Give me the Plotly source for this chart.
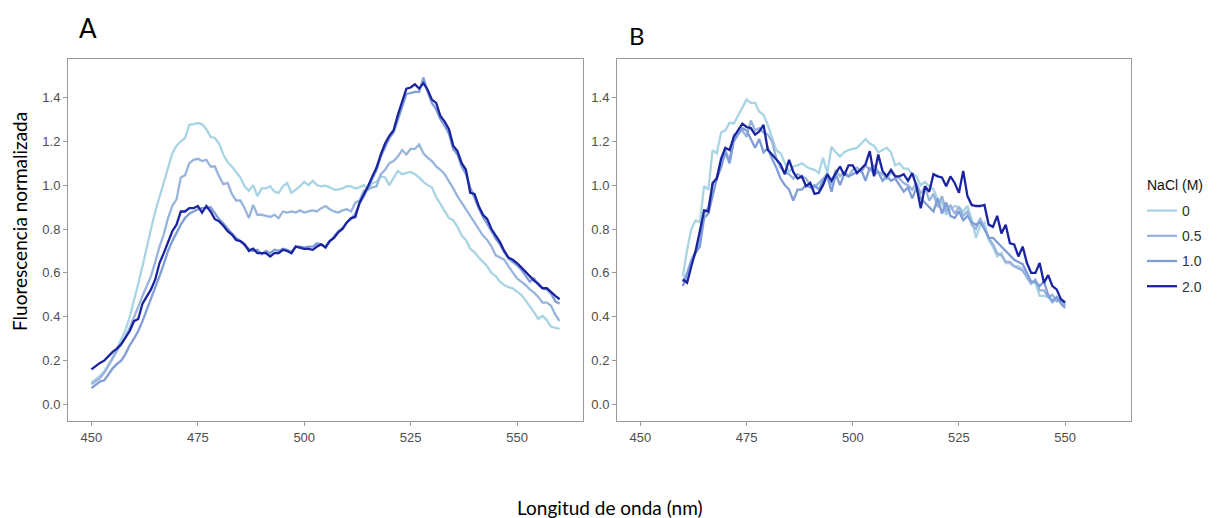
import plotly.graph_objects as go

# ---------------- data ----------------
wl_A = list(range(450, 561))
wl_B = list(range(460, 551))
series_names = ["0", "0.5", "1.0", "2.0"]
series_colors = ["#a8d4e4", "#98b4dc", "#7f9dd6", "#1a24a0"]

A_0 = [0.100, 0.115, 0.130, 0.150, 0.180, 0.215, 0.255, 0.295, 0.340, 0.400,
       0.470, 0.550, 0.630, 0.720, 0.800, 0.880, 0.945, 1.010, 1.075, 1.145,
       1.180, 1.200, 1.215, 1.275, 1.278, 1.283, 1.278, 1.255, 1.220, 1.215,
       1.190, 1.140, 1.105, 1.085, 1.060, 1.035, 0.995, 0.975, 1.000, 0.950,
       0.985, 0.985, 0.995, 0.970, 0.965, 0.995, 1.010, 0.965, 0.980, 0.995,
       1.015, 1.000, 1.020, 1.000, 0.995, 0.998, 0.990, 0.980, 0.980, 0.985,
       0.995, 0.995, 0.985, 0.990, 1.000, 0.980, 1.010, 1.015, 1.040, 1.035,
       1.000, 1.030, 1.065, 1.050, 1.055, 1.060, 1.050, 1.035, 1.015, 1.000,
       0.990, 0.945, 0.915, 0.880, 0.850, 0.840, 0.810, 0.770, 0.750, 0.710,
       0.695, 0.670, 0.650, 0.630, 0.600, 0.585, 0.560, 0.545, 0.535, 0.530,
       0.515, 0.500, 0.475, 0.450, 0.420, 0.390, 0.405, 0.385, 0.355, 0.350,
       0.345]
A_05 = [0.093, 0.105, 0.120, 0.145, 0.175, 0.210, 0.245, 0.275, 0.310, 0.350,
        0.395, 0.445, 0.495, 0.540, 0.585, 0.650, 0.720, 0.775, 0.850, 0.905,
        0.935, 1.035, 1.045, 1.100, 1.115, 1.120, 1.110, 1.115, 1.085, 1.085,
        1.040, 1.005, 1.010, 0.960, 0.930, 0.930, 0.895, 0.850, 0.910, 0.865,
        0.865, 0.860, 0.855, 0.865, 0.850, 0.880, 0.875, 0.880, 0.875, 0.885,
        0.875, 0.880, 0.885, 0.880, 0.895, 0.905, 0.890, 0.880, 0.875, 0.885,
        0.890, 0.880, 0.920, 0.930, 0.975, 0.980, 0.990, 0.995, 1.050, 1.070,
        1.100, 1.110, 1.130, 1.160, 1.140, 1.165, 1.165, 1.185, 1.145, 1.125,
        1.110, 1.085, 1.070, 1.050, 1.020, 0.985, 0.950, 0.920, 0.895, 0.860,
        0.830, 0.800, 0.770, 0.750, 0.720, 0.680, 0.670, 0.660, 0.630, 0.600,
        0.575, 0.560, 0.545, 0.525, 0.510, 0.490, 0.465, 0.465, 0.450, 0.410,
        0.380]
A_1 = [0.075, 0.090, 0.105, 0.110, 0.140, 0.165, 0.185, 0.200, 0.230, 0.270,
       0.300, 0.335, 0.380, 0.430, 0.480, 0.530, 0.585, 0.640, 0.700, 0.745,
       0.785, 0.820, 0.850, 0.870, 0.880, 0.890, 0.895, 0.895, 0.900, 0.870,
       0.845, 0.825, 0.800, 0.780, 0.760, 0.745, 0.725, 0.710, 0.700, 0.705,
       0.685, 0.700, 0.690, 0.705, 0.700, 0.710, 0.705, 0.695, 0.720, 0.720,
       0.715, 0.720, 0.720, 0.735, 0.730, 0.720, 0.745, 0.765, 0.790, 0.805,
       0.830, 0.845, 0.870, 0.915, 0.950, 0.990, 1.030, 1.070, 1.130, 1.175,
       1.215, 1.240, 1.300, 1.360, 1.415, 1.420, 1.425, 1.425, 1.490, 1.425,
       1.375, 1.345, 1.300, 1.270, 1.235, 1.165, 1.140, 1.085, 1.050, 0.990,
       0.940, 0.895, 0.855, 0.825, 0.790, 0.755, 0.730, 0.695, 0.665, 0.650,
       0.635, 0.615, 0.590, 0.560, 0.575, 0.545, 0.530, 0.525, 0.505, 0.470,
       0.460]
A_2 = [0.160, 0.175, 0.190, 0.200, 0.220, 0.240, 0.255, 0.275, 0.305, 0.335,
       0.380, 0.390, 0.460, 0.490, 0.525, 0.570, 0.645, 0.690, 0.745, 0.790,
       0.820, 0.880, 0.880, 0.895, 0.895, 0.905, 0.875, 0.905, 0.880, 0.845,
       0.835, 0.815, 0.790, 0.775, 0.750, 0.745, 0.730, 0.700, 0.710, 0.690,
       0.690, 0.690, 0.675, 0.690, 0.690, 0.705, 0.700, 0.690, 0.720, 0.715,
       0.710, 0.710, 0.705, 0.720, 0.730, 0.715, 0.745, 0.760, 0.785, 0.800,
       0.830, 0.850, 0.855, 0.920, 0.955, 0.995, 1.040, 1.080, 1.140, 1.190,
       1.225, 1.250, 1.320, 1.380, 1.440, 1.445, 1.460, 1.440, 1.465, 1.435,
       1.390, 1.375, 1.315, 1.290, 1.255, 1.180, 1.155, 1.100, 1.070, 0.965,
       0.960, 0.905, 0.865, 0.845, 0.800, 0.770, 0.740, 0.700, 0.670, 0.660,
       0.645, 0.625, 0.605, 0.585, 0.565, 0.550, 0.530, 0.530, 0.510, 0.495,
       0.480]

B_0 = [0.585, 0.705, 0.800, 0.840, 0.830, 0.995, 0.980, 1.160, 1.145, 1.240,
       1.250, 1.285, 1.280, 1.315, 1.350, 1.390, 1.375, 1.375, 1.335, 1.320,
       1.275, 1.215, 1.160, 1.145, 1.100, 1.060, 1.085, 1.090, 1.100, 1.085,
       1.075, 1.070, 1.055, 1.125, 1.055, 1.175, 1.150, 1.130, 1.150, 1.160,
       1.165, 1.170, 1.190, 1.210, 1.190, 1.180, 1.150, 1.160, 1.170, 1.150,
       1.090, 1.100, 1.075, 1.075, 1.050, 1.040, 1.000, 1.015, 0.995, 0.980,
       0.935, 0.920, 0.865, 0.890, 0.905, 0.900, 0.880, 0.905, 0.845, 0.760,
       0.815, 0.830, 0.750, 0.720, 0.675, 0.690, 0.645, 0.645, 0.630, 0.630,
       0.615, 0.585, 0.555, 0.555, 0.495, 0.495, 0.490, 0.465, 0.490, 0.465,
       0.455]
B_05 = [0.560, 0.600, 0.660, 0.700, 0.740, 0.870, 0.900, 1.000, 1.040, 1.110,
        1.160, 1.110, 1.230, 1.240, 1.250, 1.220, 1.295, 1.250, 1.260, 1.240,
        1.230, 1.200, 1.120, 1.080, 1.060, 1.050, 1.030, 1.050, 1.040, 1.030,
        1.000, 0.990, 1.010, 1.030, 1.050, 1.000, 1.070, 1.040, 1.060, 1.040,
        1.070, 1.080, 1.060, 1.090, 1.070, 1.090, 1.060, 1.050, 1.030, 1.060,
        1.040, 1.030, 1.010, 1.000, 0.980, 1.010, 0.960, 0.990, 0.930, 0.960,
        0.900, 0.950, 0.880, 0.910, 0.870, 0.900, 0.860, 0.880, 0.820, 0.800,
        0.850, 0.800, 0.760, 0.730, 0.690, 0.680, 0.650, 0.650, 0.630, 0.620,
        0.610, 0.580, 0.550, 0.570, 0.520, 0.520, 0.490, 0.500, 0.470, 0.480,
        0.450]
B_1 = [0.540, 0.600, 0.650, 0.690, 0.720, 0.850, 0.870, 0.950, 1.030, 1.080,
       1.150, 1.100, 1.200, 1.230, 1.260, 1.250, 1.210, 1.170, 1.210, 1.150,
       1.170, 1.120, 1.080, 1.030, 1.000, 0.980, 0.930, 0.980, 0.980, 1.000,
       0.990, 1.000, 0.980, 1.020, 1.040, 0.970, 1.050, 1.000, 1.050, 1.040,
       1.050, 1.060, 1.070, 1.020, 1.080, 1.050, 1.060, 1.020, 1.040, 1.020,
       1.030, 1.000, 0.970, 0.990, 0.940, 0.990, 0.940, 0.920, 0.900, 0.880,
       0.940, 0.870, 0.920, 0.860, 0.850, 0.880, 0.840, 0.860, 0.830, 0.820,
       0.830, 0.800, 0.760, 0.760, 0.740, 0.720, 0.700, 0.680, 0.660, 0.650,
       0.640, 0.600, 0.560, 0.560, 0.540, 0.560, 0.500, 0.470, 0.490, 0.460,
       0.440]
B_2 = [0.570, 0.555, 0.630, 0.700, 0.790, 0.885, 0.880, 1.010, 1.030, 1.120,
       1.170, 1.160, 1.220, 1.250, 1.280, 1.265, 1.260, 1.230, 1.245, 1.275,
       1.160, 1.140, 1.115, 1.095, 1.050, 1.115, 1.060, 1.030, 1.040, 0.995,
       1.010, 0.960, 0.965, 1.000, 1.050, 1.020, 1.055, 1.085, 1.045, 1.090,
       1.090, 1.055, 1.075, 1.095, 1.155, 1.040, 1.140, 1.065, 1.040, 1.070,
       1.040, 1.040, 1.050, 1.020, 1.055, 0.995, 0.895, 0.995, 0.970, 1.050,
       1.040, 1.035, 0.995, 1.040, 1.010, 0.965, 1.065, 0.950, 0.910, 0.905,
       0.905, 0.910, 0.820, 0.810, 0.860, 0.780, 0.820, 0.735, 0.730, 0.675,
       0.720, 0.645, 0.600, 0.600, 0.645, 0.555, 0.590, 0.540, 0.525, 0.480,
       0.465]

x_ticks = [450, 475, 500, 525, 550]
y_ticks = [0.0, 0.2, 0.4, 0.6, 0.8, 1.0, 1.2, 1.4]

panel_A = [A_0, A_05, A_1, A_2]
panel_B = [B_0, B_05, B_1, B_2]

# ---------------- figure ----------------
W, H = 1217, 518
fig = go.Figure()

for name, col, ys in zip(series_names, series_colors, panel_A):
    fig.add_trace(go.Scatter(x=wl_A, y=ys, mode="lines", name=name,
                             legendgroup=name, showlegend=False,
                             line=dict(color=col, width=2.3),
                             xaxis="x", yaxis="y"))
for name, col, ys in zip(series_names, series_colors, panel_B):
    fig.add_trace(go.Scatter(x=wl_B, y=ys, mode="lines", name=name,
                             legendgroup=name, showlegend=True,
                             line=dict(color=col, width=2.3),
                             xaxis="x2", yaxis="y2"))

tickfont = dict(family="Liberation Sans, Arial, sans-serif", size=13, color="#4d4d4d")
axis_common = dict(showgrid=False, zeroline=False, showline=True, mirror=True,
                   linecolor="#9a9a9a", linewidth=1, ticks="outside", ticklen=4,
                   tickcolor="#9a9a9a", tickwidth=1, tickfont=tickfont)

yd = [1 - 421 / H, 1 - 59 / H]
fig.update_layout(
    width=W, height=H,
    margin=dict(l=0, r=0, t=0, b=0),
    paper_bgcolor="white", plot_bgcolor="white",
    xaxis=dict(domain=[68 / W, 583 / W], range=[444.5, 565.5], tickvals=x_ticks,
               anchor="y", **axis_common),
    yaxis=dict(domain=yd, range=[-0.075, 1.575], tickvals=y_ticks, tickformat=".1f",
               anchor="x", **axis_common),
    xaxis2=dict(domain=[617 / W, 1131 / W], range=[444.5, 565.5], tickvals=x_ticks,
                anchor="y2", **axis_common),
    yaxis2=dict(domain=yd, range=[-0.075, 1.575], tickvals=y_ticks, tickformat=".1f",
                anchor="x2", **axis_common),
    legend=dict(x=1142 / W, y=1 - 195 / H, xanchor="left", yanchor="top",
                font=dict(family="Liberation Sans, Arial", size=14, color="#333"),
                traceorder="grouped", tracegroupgap=4, bgcolor="rgba(0,0,0,0)"),
    showlegend=True,
)

label_font = dict(family="Lato, sans-serif", color="black")
fig.add_annotation(text="NaCl (M)", x=1145 / W, y=1 - 185 / H, xref="paper", yref="paper",
                   showarrow=False, xanchor="left", yanchor="middle",
                   font=dict(family="Liberation Sans, Arial", size=14, color="#111"))
fig.add_annotation(text="A", x=88 / W, y=1 - 28 / H, xref="paper", yref="paper",
                   showarrow=False, xanchor="center", yanchor="middle",
                   font=dict(size=26, **label_font))
fig.add_annotation(text="B", x=637 / W, y=1 - 36 / H, xref="paper", yref="paper",
                   showarrow=False, xanchor="center", yanchor="middle",
                   font=dict(size=24, **label_font))
fig.add_annotation(text="Fluorescencia normalizada", x=19 / W, y=1 - 222 / H,
                   xref="paper", yref="paper", showarrow=False, textangle=-90,
                   xanchor="center", yanchor="middle",
                   font=dict(size=19, **label_font))
fig.add_annotation(text="Longitud de onda (nm)", x=610 / W, y=1 - 507 / H,
                   xref="paper", yref="paper", showarrow=False,
                   xanchor="center", yanchor="middle",
                   font=dict(size=19, **label_font))

fig.write_html("out.html", config={"displayModeBar": False},
               post_script="document.body.style.margin='0';document.body.style.overflow='hidden';")
